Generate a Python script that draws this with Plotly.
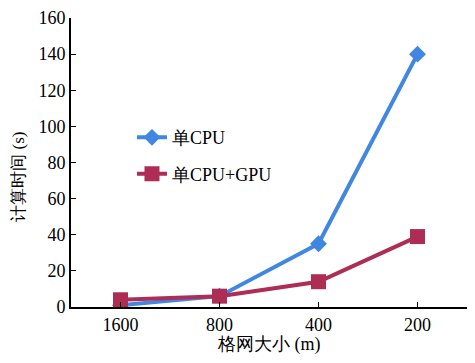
import plotly.graph_objects as go

categories = ["1600", "800", "400", "200"]
cpu_values = [1, 6, 35, 140]
cpu_gpu_values = [4, 6, 14, 39]
y_ticks = [0, 20, 40, 60, 80, 100, 120, 140, 160]

font_family = "Liberation Serif"

fig = go.Figure()
fig.add_trace(go.Scatter(
    x=categories, y=cpu_values, name="单CPU", mode="lines+markers",
    line=dict(color="#3f87e0", width=4),
    marker=dict(symbol="diamond", size=13, color="#3f87e0"),
    legendgroup="a",
))
fig.add_trace(go.Scatter(
    x=categories, y=cpu_gpu_values, name="单CPU+GPU", mode="lines+markers",
    line=dict(color="#ad2d55", width=4),
    marker=dict(symbol="square", size=15, color="#ad2d55"),
    legendgroup="b",
))

fig.update_layout(
    width=467, height=355,
    margin=dict(l=63, r=8, t=10, b=56),
    paper_bgcolor="white", plot_bgcolor="white",
    font=dict(family=font_family, size=18, color="black"),
    showlegend=True,
    legend=dict(x=0.154, y=0.65, xanchor="left", yanchor="top",
                bgcolor="rgba(0,0,0,0)", font=dict(size=18),
                tracegroupgap=10, traceorder="grouped"),
    xaxis=dict(
        type="category", range=[-0.5, 3.5], automargin=False,
        showline=True, linecolor="black", linewidth=2,
        ticks="inside", ticklen=5, tickcolor="black", tickwidth=1,
        showgrid=False, zeroline=False,
    ),
    yaxis=dict(
        range=[0, 160], tickvals=y_ticks, automargin=False,
        showline=True, linecolor="black", linewidth=2,
        ticks="inside", ticklen=5, tickcolor="black", tickwidth=1,
        showgrid=False, zeroline=False,
    ),
    annotations=[
        dict(text="格网大小 (m)", xref="paper", yref="paper", x=0.5, y=-0.131,
             xanchor="center", yanchor="middle", showarrow=False,
             font=dict(size=18)),
        dict(text="计算时间 (s)", xref="paper", yref="paper", x=-0.132, y=0.45,
             xanchor="center", yanchor="middle", showarrow=False, textangle=-90,
             font=dict(size=17)),
    ],
)

fig.write_html("out.html")
